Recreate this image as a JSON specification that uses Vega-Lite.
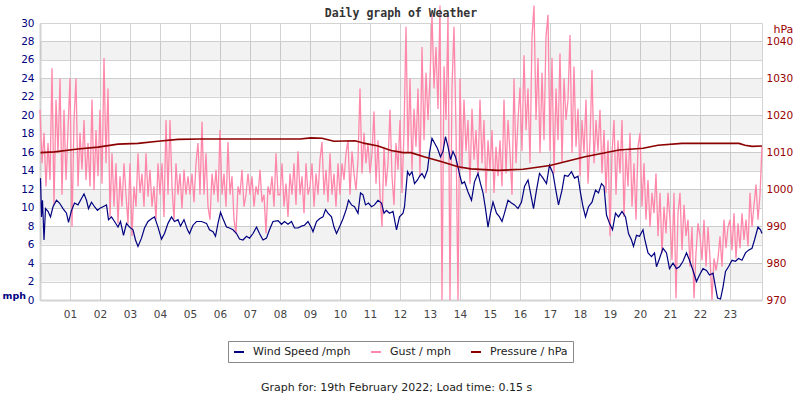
{
"$schema":"https://vega.github.io/schema/vega-lite/v6.json",
"width":722,"height":277,
"autosize":{"type":"none"},
"padding":{"left":40,"top":23,"right":38,"bottom":100},
"background":"white",
"title":{"text":"Daily graph of Weather","font":"DejaVu Sans Mono","fontSize":11.5,"fontWeight":"bold","color":"#333333","offset":6,"dy":23,"anchor":"middle","frame":"group"},
"config":{"view":{"stroke":"#d3d3d3"},"axis":{"labelFont":"DejaVu Sans","titleFont":"DejaVu Sans","labelOverlap":false},"legend":{"labelFont":"DejaVu Sans"}},
"datasets":{
"bands":[{"lo":2,"hi":4},{"lo":6,"hi":8},{"lo":10,"hi":12},{"lo":14,"hi":16},{"lo":18,"hi":20},{"lo":22,"hi":24},{"lo":26,"hi":28}],
"wind":[{"m":1,"v":13.2},{"m":3,"v":9.0},{"m":5,"v":10.8},{"m":8,"v":6.5},{"m":11,"v":9.9},{"m":16,"v":9.6},{"m":21,"v":9.0},{"m":26,"v":10.1},{"m":33,"v":10.8},{"m":39,"v":10.5},{"m":46,"v":9.9},{"m":53,"v":9.4},{"m":57,"v":8.4},{"m":63,"v":9.7},{"m":69,"v":10.5},{"m":76,"v":10.3},{"m":83,"v":11.0},{"m":88,"v":11.5},{"m":93,"v":10.8},{"m":97,"v":9.9},{"m":103,"v":10.6},{"m":109,"v":10.1},{"m":115,"v":9.7},{"m":119,"v":9.9},{"m":126,"v":10.1},{"m":133,"v":10.3},{"m":137,"v":8.7},{"m":143,"v":9.0},{"m":149,"v":8.5},{"m":156,"v":7.9},{"m":161,"v":8.5},{"m":167,"v":7.0},{"m":173,"v":8.3},{"m":179,"v":7.9},{"m":186,"v":7.6},{"m":191,"v":6.5},{"m":196,"v":5.8},{"m":203,"v":6.7},{"m":209,"v":7.8},{"m":216,"v":8.5},{"m":223,"v":8.8},{"m":229,"v":9.0},{"m":236,"v":7.9},{"m":243,"v":6.6},{"m":249,"v":7.2},{"m":256,"v":8.3},{"m":263,"v":9.0},{"m":269,"v":8.5},{"m":276,"v":8.7},{"m":281,"v":8.0},{"m":288,"v":8.7},{"m":295,"v":7.6},{"m":299,"v":7.2},{"m":306,"v":8.1},{"m":313,"v":8.5},{"m":323,"v":8.5},{"m":333,"v":8.3},{"m":339,"v":7.6},{"m":346,"v":7.4},{"m":351,"v":6.9},{"m":356,"v":8.3},{"m":361,"v":9.5},{"m":366,"v":8.8},{"m":373,"v":7.9},{"m":379,"v":7.8},{"m":386,"v":7.6},{"m":393,"v":7.2},{"m":399,"v":6.6},{"m":406,"v":6.5},{"m":413,"v":6.9},{"m":419,"v":6.7},{"m":426,"v":7.2},{"m":433,"v":7.9},{"m":439,"v":7.2},{"m":446,"v":6.5},{"m":453,"v":6.7},{"m":459,"v":7.6},{"m":466,"v":8.5},{"m":476,"v":8.6},{"m":483,"v":8.2},{"m":489,"v":8.5},{"m":496,"v":8.2},{"m":503,"v":8.5},{"m":509,"v":7.8},{"m":516,"v":7.8},{"m":523,"v":8.0},{"m":529,"v":8.1},{"m":536,"v":8.5},{"m":543,"v":7.8},{"m":546,"v":7.4},{"m":553,"v":8.5},{"m":559,"v":8.8},{"m":566,"v":9.0},{"m":571,"v":9.8},{"m":576,"v":9.4},{"m":583,"v":9.0},{"m":588,"v":7.9},{"m":593,"v":7.2},{"m":599,"v":7.9},{"m":606,"v":8.8},{"m":613,"v":9.9},{"m":617,"v":10.8},{"m":623,"v":10.3},{"m":629,"v":10.1},{"m":636,"v":9.4},{"m":641,"v":11.6},{"m":646,"v":11.4},{"m":651,"v":10.3},{"m":657,"v":10.5},{"m":663,"v":10.1},{"m":669,"v":10.3},{"m":676,"v":10.8},{"m":683,"v":10.5},{"m":688,"v":9.4},{"m":693,"v":9.7},{"m":699,"v":9.4},{"m":706,"v":9.6},{"m":713,"v":7.6},{"m":719,"v":9.0},{"m":726,"v":9.4},{"m":729,"v":10.1},{"m":735,"v":13.9},{"m":739,"v":13.5},{"m":744,"v":13.9},{"m":749,"v":12.6},{"m":755,"v":13.0},{"m":759,"v":13.4},{"m":764,"v":13.7},{"m":769,"v":13.2},{"m":775,"v":14.1},{"m":779,"v":15.9},{"m":784,"v":17.5},{"m":789,"v":17.0},{"m":795,"v":16.4},{"m":801,"v":15.5},{"m":806,"v":16.1},{"m":811,"v":17.7},{"m":816,"v":16.6},{"m":821,"v":15.2},{"m":826,"v":16.1},{"m":831,"v":15.5},{"m":836,"v":14.4},{"m":840,"v":13.4},{"m":844,"v":12.6},{"m":849,"v":12.8},{"m":856,"v":11.7},{"m":863,"v":10.8},{"m":869,"v":12.8},{"m":876,"v":13.7},{"m":881,"v":12.6},{"m":886,"v":11.6},{"m":891,"v":9.9},{"m":896,"v":7.9},{"m":901,"v":9.4},{"m":906,"v":10.6},{"m":913,"v":9.4},{"m":919,"v":9.0},{"m":924,"v":8.5},{"m":929,"v":9.4},{"m":936,"v":10.8},{"m":943,"v":10.5},{"m":949,"v":10.3},{"m":956,"v":9.9},{"m":963,"v":10.6},{"m":969,"v":12.3},{"m":976,"v":13.0},{"m":981,"v":11.6},{"m":987,"v":9.9},{"m":993,"v":11.9},{"m":999,"v":13.7},{"m":1006,"v":13.2},{"m":1013,"v":12.6},{"m":1019,"v":14.6},{"m":1026,"v":13.7},{"m":1031,"v":12.1},{"m":1037,"v":10.3},{"m":1044,"v":11.9},{"m":1049,"v":13.5},{"m":1056,"v":13.4},{"m":1063,"v":13.9},{"m":1069,"v":13.2},{"m":1076,"v":13.4},{"m":1081,"v":11.6},{"m":1086,"v":10.1},{"m":1091,"v":9.0},{"m":1097,"v":10.1},{"m":1104,"v":10.6},{"m":1111,"v":11.9},{"m":1117,"v":11.6},{"m":1123,"v":12.6},{"m":1128,"v":12.3},{"m":1133,"v":9.2},{"m":1139,"v":8.3},{"m":1145,"v":7.6},{"m":1151,"v":9.4},{"m":1157,"v":9.0},{"m":1164,"v":9.6},{"m":1171,"v":9.0},{"m":1177,"v":7.2},{"m":1183,"v":6.5},{"m":1187,"v":5.8},{"m":1193,"v":7.0},{"m":1199,"v":6.9},{"m":1206,"v":7.6},{"m":1209,"v":6.7},{"m":1216,"v":5.1},{"m":1223,"v":4.7},{"m":1229,"v":5.1},{"m":1233,"v":3.6},{"m":1239,"v":4.5},{"m":1246,"v":5.6},{"m":1253,"v":5.1},{"m":1259,"v":3.4},{"m":1266,"v":4.0},{"m":1273,"v":3.4},{"m":1279,"v":3.6},{"m":1286,"v":4.2},{"m":1293,"v":5.1},{"m":1299,"v":4.3},{"m":1306,"v":3.2},{"m":1313,"v":2.0},{"m":1319,"v":2.7},{"m":1326,"v":3.4},{"m":1333,"v":3.2},{"m":1339,"v":2.7},{"m":1346,"v":2.9},{"m":1351,"v":1.4},{"m":1355,"v":0.2},{"m":1361,"v":0.1},{"m":1366,"v":1.4},{"m":1371,"v":3.1},{"m":1377,"v":3.6},{"m":1384,"v":4.3},{"m":1391,"v":4.2},{"m":1397,"v":4.5},{"m":1404,"v":4.3},{"m":1411,"v":5.1},{"m":1417,"v":5.4},{"m":1424,"v":5.6},{"m":1429,"v":6.5},{"m":1436,"v":7.9},{"m":1441,"v":7.6},{"m":1444,"v":7.2}],
"gust":[{"m":0,"v":20.6},{"m":4,"v":14.8},{"m":8,"v":18.1},{"m":12,"v":12.3},{"m":16,"v":17.0},{"m":20,"v":13.0},{"m":24,"v":25.1},{"m":28,"v":10.3},{"m":32,"v":21.7},{"m":36,"v":15.9},{"m":40,"v":24.0},{"m":44,"v":11.4},{"m":48,"v":20.6},{"m":52,"v":13.0},{"m":56,"v":18.4},
{"m":60,"v":24.0},{"m":64,"v":7.9},{"m":68,"v":19.5},{"m":72,"v":24.0},{"m":76,"v":12.3},{"m":80,"v":18.1},{"m":84,"v":14.1},{"m":88,"v":19.5},{"m":92,"v":13.0},{"m":96,"v":17.0},{"m":100,"v":12.3},{"m":104,"v":21.7},{"m":108,"v":11.9},{"m":112,"v":18.4},{"m":116,"v":13.4},
{"m":120,"v":20.6},{"m":124,"v":12.6},{"m":128,"v":26.2},{"m":132,"v":14.8},{"m":136,"v":22.9},{"m":140,"v":9.0},{"m":144,"v":15.9},{"m":148,"v":10.1},{"m":152,"v":14.8},{"m":156,"v":8.3},{"m":160,"v":13.4},{"m":164,"v":10.1},{"m":168,"v":14.8},{"m":172,"v":11.4},{"m":176,"v":8.3},
{"m":180,"v":14.8},{"m":184,"v":6.9},{"m":188,"v":12.3},{"m":192,"v":10.1},{"m":196,"v":15.9},{"m":200,"v":11.6},{"m":204,"v":13.7},{"m":208,"v":10.1},{"m":212,"v":15.9},{"m":216,"v":11.2},{"m":220,"v":14.1},{"m":224,"v":10.1},{"m":228,"v":12.3},{"m":232,"v":8.7},{"m":236,"v":14.8},
{"m":240,"v":11.4},{"m":244,"v":14.8},{"m":248,"v":9.0},{"m":252,"v":19.5},{"m":256,"v":11.4},{"m":260,"v":19.5},{"m":264,"v":12.3},{"m":268,"v":8.7},{"m":272,"v":14.8},{"m":276,"v":11.4},{"m":280,"v":13.7},{"m":284,"v":9.9},{"m":288,"v":14.1},{"m":292,"v":11.4},{"m":296,"v":13.4},
{"m":300,"v":11.4},{"m":304,"v":13.7},{"m":308,"v":10.6},{"m":312,"v":14.8},{"m":316,"v":17.0},{"m":320,"v":11.4},{"m":324,"v":19.3},{"m":328,"v":11.4},{"m":332,"v":15.9},{"m":336,"v":10.1},{"m":340,"v":8.7},{"m":344,"v":13.7},{"m":348,"v":11.4},{"m":352,"v":14.1},{"m":356,"v":10.6},
{"m":360,"v":18.4},{"m":364,"v":11.4},{"m":368,"v":13.7},{"m":372,"v":10.1},{"m":376,"v":17.1},{"m":380,"v":11.4},{"m":384,"v":13.4},{"m":388,"v":8.7},{"m":392,"v":7.2},{"m":396,"v":12.3},{"m":400,"v":11.4},{"m":404,"v":14.1},{"m":408,"v":10.1},{"m":412,"v":11.4},{"m":416,"v":13.7},
{"m":420,"v":11.4},{"m":424,"v":13.4},{"m":428,"v":10.1},{"m":432,"v":12.3},{"m":436,"v":11.4},{"m":440,"v":14.1},{"m":444,"v":10.6},{"m":448,"v":11.4},{"m":452,"v":7.2},{"m":456,"v":12.3},{"m":460,"v":11.4},{"m":464,"v":13.4},{"m":468,"v":10.1},{"m":472,"v":15.9},{"m":476,"v":11.4},
{"m":480,"v":11.4},{"m":484,"v":14.8},{"m":488,"v":10.1},{"m":492,"v":12.6},{"m":496,"v":9.0},{"m":500,"v":13.7},{"m":504,"v":11.4},{"m":508,"v":14.8},{"m":512,"v":10.3},{"m":516,"v":16.1},{"m":520,"v":11.4},{"m":524,"v":13.4},{"m":528,"v":9.4},{"m":532,"v":14.8},{"m":536,"v":11.4},
{"m":540,"v":12.3},{"m":544,"v":14.8},{"m":548,"v":10.1},{"m":552,"v":13.7},{"m":556,"v":11.4},{"m":560,"v":15.2},{"m":564,"v":17.1},{"m":568,"v":11.4},{"m":572,"v":14.1},{"m":576,"v":10.6},{"m":580,"v":15.9},{"m":584,"v":11.4},{"m":588,"v":13.7},{"m":592,"v":10.1},{"m":596,"v":14.8},
{"m":600,"v":11.4},{"m":604,"v":14.8},{"m":608,"v":13.0},{"m":612,"v":15.9},{"m":616,"v":17.3},{"m":620,"v":11.4},{"m":624,"v":16.1},{"m":628,"v":13.7},{"m":632,"v":11.9},{"m":636,"v":15.2},{"m":640,"v":22.9},{"m":644,"v":13.7},{"m":648,"v":18.1},{"m":652,"v":14.8},{"m":656,"v":17.0},
{"m":660,"v":13.7},{"m":664,"v":15.9},{"m":668,"v":20.4},{"m":672,"v":12.6},{"m":676,"v":17.3},{"m":680,"v":11.4},{"m":684,"v":7.9},{"m":688,"v":16.6},{"m":692,"v":12.3},{"m":696,"v":14.8},{"m":700,"v":20.6},{"m":704,"v":13.4},{"m":708,"v":10.3},{"m":712,"v":17.0},{"m":716,"v":14.1},
{"m":720,"v":19.5},{"m":724,"v":11.6},{"m":728,"v":18.1},{"m":732,"v":29.6},{"m":736,"v":15.9},{"m":740,"v":24.0},{"m":744,"v":14.1},{"m":748,"v":20.7},{"m":752,"v":16.6},{"m":756,"v":22.9},{"m":760,"v":13.4},{"m":764,"v":27.4},{"m":768,"v":17.3},{"m":772,"v":24.6},{"m":776,"v":19.5},
{"m":780,"v":24.0},{"m":784,"v":30.9},{"m":788,"v":22.9},{"m":792,"v":27.4},{"m":796,"v":20.7},{"m":800,"v":31.9},{"m":804,"v":0},{"m":808,"v":25.3},{"m":812,"v":19.5},{"m":816,"v":30.9},{"m":820,"v":0},{"m":824,"v":23.0},{"m":828,"v":29.6},{"m":832,"v":18.4},{"m":836,"v":0},
{"m":840,"v":24.0},{"m":844,"v":14.1},{"m":848,"v":21.7},{"m":852,"v":16.1},{"m":856,"v":19.5},{"m":860,"v":12.6},{"m":864,"v":20.7},{"m":868,"v":15.2},{"m":872,"v":18.4},{"m":876,"v":13.7},{"m":880,"v":21.7},{"m":884,"v":14.8},{"m":888,"v":19.5},{"m":892,"v":11.6},{"m":896,"v":17.3},
{"m":900,"v":14.1},{"m":904,"v":18.4},{"m":908,"v":11.6},{"m":912,"v":16.6},{"m":916,"v":13.4},{"m":920,"v":17.3},{"m":924,"v":12.3},{"m":928,"v":21.7},{"m":932,"v":13.7},{"m":936,"v":19.5},{"m":940,"v":15.9},{"m":944,"v":11.4},{"m":948,"v":24.0},{"m":952,"v":14.8},{"m":956,"v":19.5},
{"m":960,"v":23.0},{"m":964,"v":16.1},{"m":968,"v":26.5},{"m":972,"v":18.4},{"m":976,"v":22.9},{"m":980,"v":14.8},{"m":984,"v":28.5},{"m":988,"v":31.9},{"m":992,"v":19.5},{"m":996,"v":26.2},{"m":1000,"v":15.9},{"m":1004,"v":24.6},{"m":1008,"v":17.3},{"m":1012,"v":28.5},{"m":1016,"v":30.9},
{"m":1020,"v":16.1},{"m":1024,"v":26.2},{"m":1028,"v":13.7},{"m":1032,"v":22.9},{"m":1036,"v":17.3},{"m":1040,"v":26.7},{"m":1044,"v":14.8},{"m":1048,"v":24.0},{"m":1052,"v":19.5},{"m":1056,"v":21.7},{"m":1060,"v":28.7},{"m":1064,"v":15.9},{"m":1068,"v":25.3},{"m":1072,"v":16.6},{"m":1076,"v":20.7},
{"m":1080,"v":13.4},{"m":1084,"v":19.5},{"m":1088,"v":15.9},{"m":1092,"v":21.7},{"m":1096,"v":12.6},{"m":1100,"v":17.3},{"m":1104,"v":24.9},{"m":1108,"v":14.8},{"m":1112,"v":19.5},{"m":1116,"v":16.1},{"m":1120,"v":20.6},{"m":1124,"v":13.7},{"m":1128,"v":18.4},{"m":1132,"v":11.6},{"m":1136,"v":17.3},
{"m":1140,"v":6.9},{"m":1144,"v":15.9},{"m":1148,"v":19.5},{"m":1152,"v":11.4},{"m":1156,"v":17.3},{"m":1160,"v":13.7},{"m":1164,"v":19.5},{"m":1168,"v":9.0},{"m":1172,"v":16.1},{"m":1176,"v":12.3},{"m":1180,"v":18.1},{"m":1184,"v":10.1},{"m":1188,"v":14.8},{"m":1192,"v":8.7},{"m":1196,"v":16.6},
{"m":1200,"v":18.1},{"m":1204,"v":10.1},{"m":1208,"v":14.8},{"m":1212,"v":8.7},{"m":1216,"v":13.0},{"m":1220,"v":7.9},{"m":1224,"v":11.6},{"m":1228,"v":9.4},{"m":1232,"v":13.7},{"m":1236,"v":6.9},{"m":1240,"v":11.6},{"m":1244,"v":5.1},{"m":1248,"v":10.1},{"m":1252,"v":7.2},{"m":1256,"v":11.6},
{"m":1260,"v":8.7},{"m":1264,"v":4.3},{"m":1268,"v":11.6},{"m":1272,"v":0.2},{"m":1276,"v":9.4},{"m":1280,"v":11.6},{"m":1284,"v":5.4},{"m":1288,"v":10.3},{"m":1292,"v":6.9},{"m":1296,"v":8.7},{"m":1300,"v":3.6},{"m":1304,"v":7.9},{"m":1308,"v":0.2},{"m":1312,"v":5.1},{"m":1316,"v":8.3},
{"m":1320,"v":6.9},{"m":1324,"v":4.3},{"m":1328,"v":8.7},{"m":1332,"v":3.6},{"m":1336,"v":7.9},{"m":1340,"v":4.5},{"m":1344,"v":0.0},{"m":1348,"v":4.5},{"m":1352,"v":3.2},{"m":1356,"v":4.5},{"m":1360,"v":6.9},{"m":1364,"v":3.6},{"m":1368,"v":8.7},{"m":1372,"v":5.6},{"m":1376,"v":7.9},
{"m":1380,"v":8.7},{"m":1384,"v":5.4},{"m":1388,"v":9.4},{"m":1392,"v":4.5},{"m":1396,"v":8.3},{"m":1400,"v":5.6},{"m":1404,"v":9.4},{"m":1408,"v":6.5},{"m":1412,"v":8.7},{"m":1416,"v":5.8},{"m":1420,"v":11.6},{"m":1424,"v":7.9},{"m":1428,"v":10.3},{"m":1432,"v":12.5},{"m":1436,"v":8.7},{"m":1440,"v":11.4},{"m":1444,"v":16.6}],
"pressure":[{"m":1,"v":1009.9},{"m":29,"v":1010.1},{"m":76,"v":1010.9},{"m":116,"v":1011.4},{"m":156,"v":1012.2},{"m":196,"v":1012.4},{"m":236,"v":1013.0},{"m":276,"v":1013.5},{"m":320,"v":1013.6},{"m":400,"v":1013.6},{"m":480,"v":1013.6},{"m":520,"v":1013.6},{"m":542,"v":1013.9},{"m":564,"v":1013.8},{"m":588,"v":1013.0},{"m":630,"v":1013.1},{"m":650,"v":1012.4},{"m":676,"v":1011.7},{"m":702,"v":1010.5},{"m":726,"v":1009.9},{"m":742,"v":1009.9},{"m":768,"v":1008.8},{"m":802,"v":1007.5},{"m":836,"v":1006.1},{"m":862,"v":1005.5},{"m":916,"v":1005.1},{"m":966,"v":1005.4},{"m":1020,"v":1006.4},{"m":1090,"v":1008.8},{"m":1158,"v":1010.6},{"m":1206,"v":1011.1},{"m":1236,"v":1011.9},{"m":1284,"v":1012.4},{"m":1398,"v":1012.4},{"m":1410,"v":1011.9},{"m":1424,"v":1011.6},{"m":1444,"v":1011.7}]
},
"layer":[
 {"layer":[
  {"data":{"name":"bands"},
   "mark":{"type":"rect","color":"#000000","opacity":0.05},
   "encoding":{
     "y":{"field":"lo","type":"quantitative","scale":{"domain":[0,30],"nice":false,"zero":true},
          "axis":{"orient":"left","values":[0,2,4,6,8,10,12,14,16,18,20,22,24,26,28,30],"tickCount":40,"labelOverlap":false,"grid":true,"gridColor":"#d3d3d3","ticks":false,"domain":true,"domainColor":"#d3d3d3","domainWidth":2,"labelColor":"#000080","labelFontSize":10.5,"labelPadding":6,"labelFlush":false,"title":"mph","titleAngle":0,"titleX":-38,"titleY":272,"titleAlign":"left","titleBaseline":"middle","titleColor":"#000080","titleFontWeight":"bold","titleFontSize":9.5}},
     "y2":{"field":"hi"}}},
  {"data":{"name":"gust"},
   "mark":{"type":"line","strokeWidth":1.3,"clip":false},
   "encoding":{
     "x":{"field":"m","type":"quantitative","scale":{"domain":[0,1444],"nice":false,"zero":false},
          "axis":{"values":[60,120,180,240,300,360,420,480,540,600,660,720,780,840,900,960,1020,1080,1140,1200,1260,1320,1380],"tickCount":50,"labelOverlap":false,"labelExpr":"(datum.value/60 < 10 ? '0' : '') + (datum.value/60)","grid":true,"gridColor":"#d3d3d3","ticks":false,"domain":true,"domainColor":"#d3d3d3","domainWidth":2,"labelColor":"#444444","labelFontSize":10.5,"labelPadding":9,"labelFlush":false,"title":"Graph for: 19th February 2022; Load time: 0.15 s","titleFontWeight":"normal","titleFontSize":11,"titleColor":"#222222","titlePadding":62,"titleX":356,"titleAlign":"center"}},
     "y":{"field":"v","type":"quantitative"},
     "color":{"datum":"Gust / mph","type":"nominal","scale":{"domain":["Wind Speed /mph","Gust / mph","Pressure / hPa"],"range":["#000080","#ff88aa","#8b0000"]},
              "legend":{"title":null,"orient":"none","legendX":188,"legendY":318,"direction":"horizontal","fillColor":"white","strokeColor":"#888888","padding":5,"symbolType":"stroke","symbolStrokeWidth":2,"symbolSize":100,"labelFontSize":11,"labelColor":"#222222","labelOffset":8,"columnPadding":16}}}},
  {"data":{"name":"wind"},
   "mark":{"type":"line","strokeWidth":1.2},
   "encoding":{
     "x":{"field":"m","type":"quantitative"},
     "y":{"field":"v","type":"quantitative"},
     "color":{"datum":"Wind Speed /mph","type":"nominal"}}}
 ]},
 {"data":{"name":"pressure"},
  "mark":{"type":"line","strokeWidth":1.6},
  "encoding":{
    "x":{"field":"m","type":"quantitative"},
    "y":{"field":"v","type":"quantitative","scale":{"domain":[970,1045],"nice":false,"zero":false},
         "axis":{"orient":"right","values":[970,980,990,1000,1010,1020,1030,1040],"tickCount":20,"labelOverlap":false,"format":"d","grid":false,"ticks":false,"domain":false,"labelColor":"#990000","labelFontSize":10.5,"labelPadding":4,"labelFlush":false,"title":"hPa","titleAngle":0,"titleX":11,"titleY":6,"titleAlign":"left","titleBaseline":"middle","titleColor":"#990000","titleFontSize":11,"titleFontWeight":"normal"}},
    "color":{"datum":"Pressure / hPa","type":"nominal"}}}
],
"resolve":{"scale":{"y":"independent"}}
}
